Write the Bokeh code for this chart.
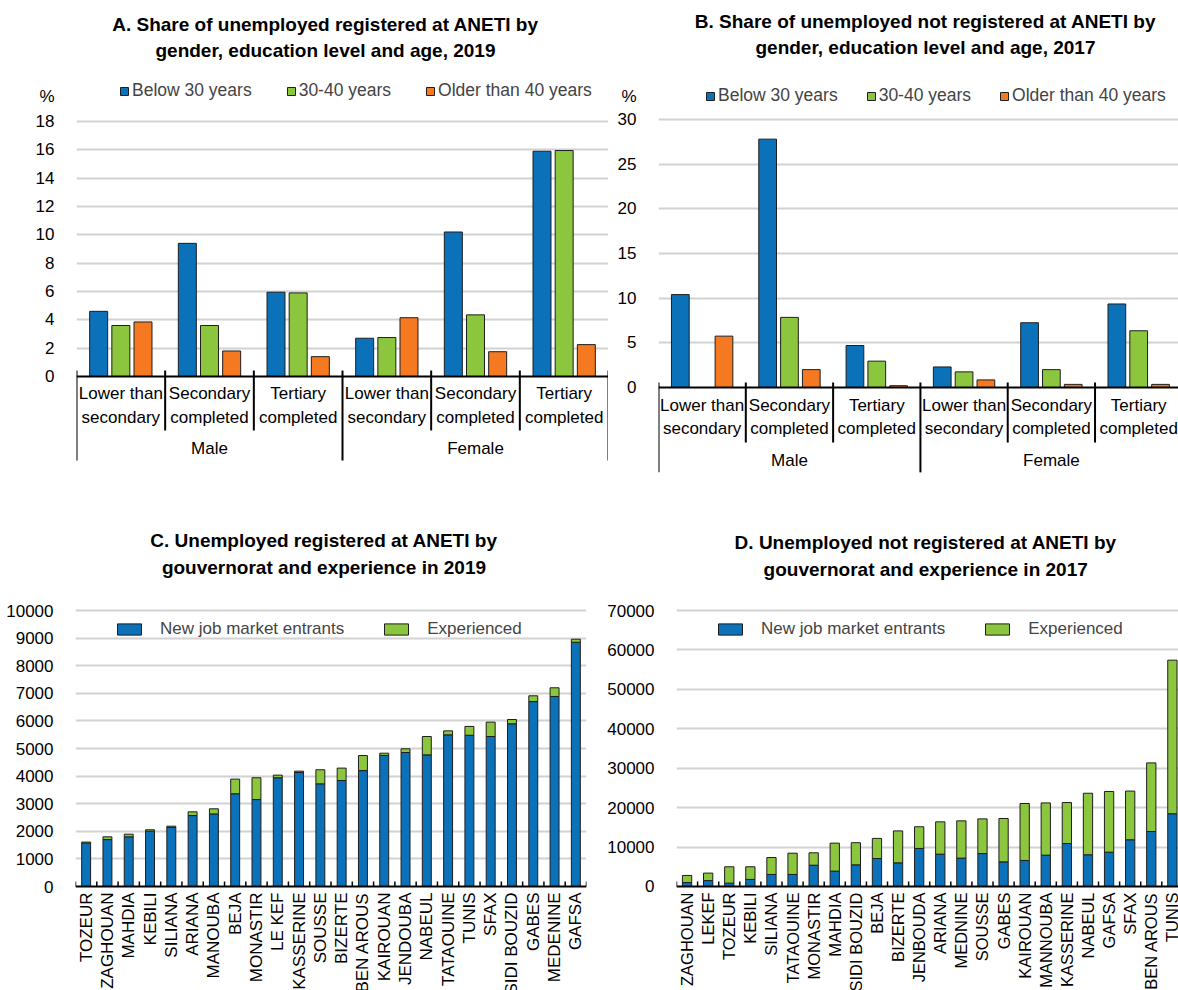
import math
from bokeh.plotting import figure
from bokeh.models import ColumnDataSource, FixedTicker, Range1d, Legend, LegendItem, Span
from bokeh.layouts import row, column
from bokeh.embed import file_html
from bokeh.resources import INLINE
from bokeh.core.properties import value

FONT = "Liberation Sans"
BLUE = "#0B72BA"
GREEN = "#8CC63F"
ORANGE = "#F47920"
EDGE = "#1E1E1E"
GRID = "#D2D2D2"

# ---------------- data ----------------
edu_line1 = ["Lower than", "Secondary", "Tertiary"]
edu_line2 = ["secondary", "completed", "completed"]
genders = ["Male", "Female"]
age_groups = ["Below 30 years", "30-40 years", "Older than 40 years"]

# Panel A (2019, registered), order: Male (Lower, Secondary, Tertiary), Female (...)
a_below30 = [4.6, 9.4, 5.95, 2.7, 10.2, 15.9]
a_30_40 = [3.6, 3.6, 5.9, 2.75, 4.35, 15.95]
a_over40 = [3.85, 1.8, 1.4, 4.15, 1.75, 2.25]

# Panel B (2017, not registered)
b_below30 = [10.4, 27.8, 4.7, 2.3, 7.25, 9.35]
b_30_40 = [0.0, 7.85, 2.95, 1.75, 2.0, 6.35]
b_over40 = [5.75, 2.0, 0.2, 0.85, 0.35, 0.35]

# Panel C (2019, registered)
c_gouv = ["TOZEUR", "ZAGHOUAN", "MAHDIA", "KEBILI", "SILIANA", "ARIANA", "MANOUBA",
          "BEJA", "MONASTIR", "LE KEF", "KASSERINE", "SOUSSE", "BIZERTE", "BEN AROUS",
          "KAIROUAN", "JENDOUBA", "NABEUL", "TATAOUINE", "TUNIS", "SFAX", "SIDI BOUZID",
          "GABES", "MEDENINE", "GAFSA"]
c_new = [1570, 1700, 1800, 2005, 2140, 2570, 2630, 3360, 3150, 3940, 4130, 3720,
         3840, 4200, 4750, 4855, 4770, 5495, 5480, 5435, 5895, 6700, 6885, 8850]
c_exp = [40, 100, 95, 50, 45, 135, 185, 530, 790, 95, 50, 510,
         450, 545, 80, 135, 665, 145, 320, 520, 155, 210, 315, 110]

# Panel D (2017, not registered)
d_gouv = ["ZAGHOUAN", "LEKEF", "TOZEUR", "KEBILI", "SILIANA", "TATAOUINE", "MONASTIR",
          "MAHDIA", "SIDI BOUZID", "BEJA", "BIZERTE", "JENBOUDA", "ARIANA", "MEDNINE",
          "SOUSSE", "GABES", "KAIROUAN", "MANNOUBA", "KASSERINE", "NABEUL", "GAFSA",
          "SFAX", "BEN AROUS", "TUNIS"]
d_new = [1000, 1500, 850, 1800, 3050, 3050, 5400, 3900, 5500, 7100, 6000, 9650,
         8200, 7200, 8350, 6250, 6600, 7950, 10900, 8050, 8700, 11850, 13950, 18450]
d_exp = [1800, 1900, 4150, 3200, 4300, 5400, 3150, 7100, 5600, 5100, 8100, 5500,
         8200, 9450, 8800, 11000, 14450, 13250, 10400, 15600, 15400, 12350, 17400, 38950]

a_ticks = [0, 2, 4, 6, 8, 10, 12, 14, 16, 18]
b_ticks = [0, 5, 10, 15, 20, 25, 30]
c_ticks = [0, 1000, 2000, 3000, 4000, 5000, 6000, 7000, 8000, 9000, 10000]
d_ticks = [0, 10000, 20000, 30000, 40000, 50000, 60000, 70000]


def base_fig(width, height, xr, yr, left):
    p = figure(width=width, height=height, x_range=Range1d(*xr), y_range=Range1d(*yr),
               x_axis_location=None, toolbar_location=None, output_backend="svg",
               min_border_left=left, min_border_right=0, min_border_top=0,
               min_border_bottom=0, outline_line_color=None, background_fill_color="white")
    for g in p.xgrid:
        g.visible = False
    return p


def style_yaxis(p, ticks, pct=None):
    allt = list(ticks) + ([pct] if pct is not None else [])
    p.yaxis.ticker = FixedTicker(ticks=allt)
    if pct is not None:
        p.yaxis.major_label_overrides = {pct: "%"}
    p.yaxis.axis_line_color = None
    p.yaxis.major_tick_line_color = None
    p.yaxis.minor_tick_line_color = None
    p.yaxis.major_label_standoff = 16
    p.yaxis.major_label_text_font = FONT
    p.yaxis.major_label_text_font_size = "17px"
    p.yaxis.major_label_text_color = "black"
    p.ygrid.ticker = FixedTicker(ticks=[t for t in ticks if t > 0])
    p.ygrid.grid_line_color = GRID
    p.ygrid.grid_line_width = 2
    p.add_layout(Span(location=0, dimension="width", line_color="black", line_width=2))


def titles(p, x, ys, lines):
    p.text(x=[x] * len(lines), y=ys, text=lines, text_font=value(FONT),
           text_font_style="bold", text_font_size="19px", text_align="center",
           text_baseline="alphabetic", text_color="black")


def panel_ab(width, left, x_end, y_rng, ticks, pct, series, title_lines, title_x, title_ys,
             lab_ys, sep_top, sep_inner, sep_outer, leg_loc, leg_spacing):
    p = base_fig(width, 498, (0, x_end), y_rng, left)
    style_yaxis(p, ticks, pct)
    n = len(series[0])
    items = []
    for k, (vals, col, name) in enumerate(zip(series, [BLUE, GREEN, ORANGE], age_groups)):
        src = ColumnDataSource(dict(x=[g + 0.25 * (k + 1) for g in range(n)], top=vals))
        r = p.vbar(x="x", top="top", bottom=0, width=0.203, source=src,
                   fill_color=col, line_color=EDGE, line_width=1)
        items.append(LegendItem(label=name, renderers=[r]))
    # separators between categories
    bx = list(range(n + 1))
    p.segment(x0=bx, x1=bx, y0=[sep_top] * len(bx),
              y1=[sep_outer if b % 3 == 0 else sep_inner for b in bx],
              line_color="black", line_width=2)
    centers = [g + 0.5 for g in range(n)]
    p.text(x=centers, y=[lab_ys[0]] * n, text=edu_line1 * 2, text_font=value(FONT),
           text_font_size="17px", text_align="center", text_baseline="middle")
    p.text(x=centers, y=[lab_ys[1]] * n, text=edu_line2 * 2, text_font=value(FONT),
           text_font_size="17px", text_align="center", text_baseline="middle")
    p.text(x=[1.5, 4.5], y=[lab_ys[2]] * 2, text=genders, text_font=value(FONT),
           text_font_size="17px", text_align="center", text_baseline="middle")
    titles(p, title_x, title_ys, title_lines)
    leg = Legend(items=items, orientation="horizontal", location=leg_loc,
                 glyph_width=10, glyph_height=10, label_standoff=3, spacing=leg_spacing,
                 padding=0, margin=0, border_line_color=None, background_fill_alpha=0,
                 label_text_font=FONT, label_text_font_size="17.5px", label_height=20)
    p.add_layout(leg)
    return p


pA = panel_ab(608, 76, 6, (-8.612, 26.541), a_ticks, 19.76,
              [a_below30, a_30_40, a_over40],
              ["A. Share of unemployed registered at ANETI by",
               "gender, education level and age, 2019"], 2.808, [24.845, 23.015],
              [-1.2, -2.89, -5.08], 0.42, -3.81, -5.93, (43, 397), 34)

pB = panel_ab(570, 50, 5.956, (-12.425, 43.321), b_ticks, 32.57,
              [b_below30, b_30_40, b_over40],
              ["B. Share of unemployed not registered at ANETI by",
               "gender, education level and age, 2017"], 3.058, [40.99, 38.09],
              [-2.0, -4.59, -8.17], 0.56, -6.16, -9.5, (47, 392), 28)


def panel_cd(width, left, right, x_end, y_rng, ticks, names, new, exp, title_lines,
             title_x, title_ys, bar_w, tick_h, lab_y, lab_size, leg_loc):
    p = base_fig(width, 492, (-0.5, x_end), y_rng, left)
    p.min_border_right = right
    style_yaxis(p, ticks)
    src = ColumnDataSource(dict(x=list(range(len(names))), new=new, exp=exp))
    rs = p.vbar_stack(["new", "exp"], x="x", width=bar_w, source=src,
                      fill_color=[BLUE, GREEN], line_color=EDGE, line_width=1)
    bx = [i - 0.5 for i in range(len(names) + 1)]
    p.segment(x0=bx, x1=bx, y0=[0] * len(bx), y1=[tick_h] * len(bx),
              line_color="black", line_width=1.5)
    p.text(x=list(range(len(names))), y=[lab_y] * len(names), text=names,
           angle=math.pi / 2, text_font=value(FONT), text_font_size=lab_size,
           text_align="right", text_baseline="middle")
    titles(p, title_x, title_ys, title_lines)
    leg = Legend(items=[LegendItem(label="New job market entrants", renderers=[rs[0]]),
                        LegendItem(label="Experienced", renderers=[rs[1]])],
                 orientation="horizontal", location=leg_loc,
                 glyph_width=30, glyph_height=14, label_standoff=16, spacing=37,
                 padding=0, margin=0, border_line_color=None, background_fill_alpha=0,
                 label_text_font=FONT, label_text_font_size="17px", label_height=20)
    p.add_layout(leg)
    return p


pC = panel_cd(600, 75, 14, 23.5, (-3768, 14058), c_ticks, c_gouv, c_new, c_exp,
              ["C. Unemployed registered at ANETI by",
               "gouvernorat and experience in 2019"], 11.17, [12536, 11558],
              0.42, 181, -217, "17px", (39, 351))

pD = panel_cd(578, 76, 0, 23.29, (-26377, 98406), d_ticks, d_gouv, d_new, d_exp,
              ["D. Unemployed not registered at ANETI by",
               "gouvernorat and experience in 2017"], 11.31, [87246, 80399],
              0.44, 1268, -1522, "16.5px", (39, 351))

layout = column(row(pA, pB), row(pC, pD))

open("out.html", "w").write(file_html(layout, INLINE))
